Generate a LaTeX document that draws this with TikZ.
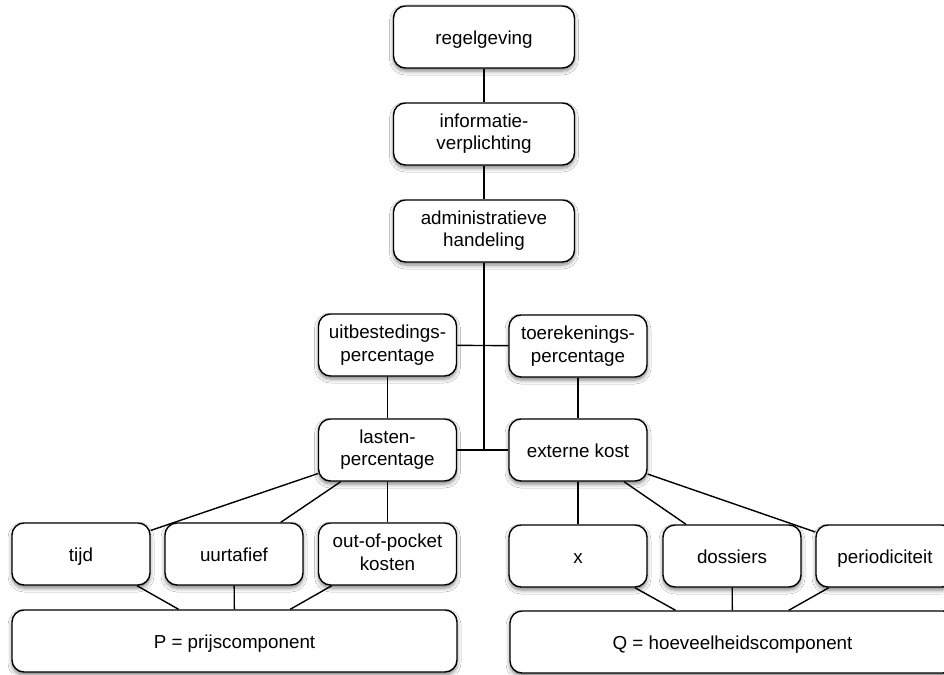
\documentclass[tikz,border=0pt]{standalone}
\usepackage{fontspec}
\setmainfont{Liberation Sans}
\usetikzlibrary{shadows.blur}
% strut that sets the baseline a little low in each box
\newcommand\boxstrut{\rule[-3.6pt]{0pt}{22pt}}
\begin{document}
\begin{tikzpicture}[x=1pt,y=-1pt,
  box/.style={draw=black, line width=1.4pt, rounded corners=12pt, fill=white,
    align=center, font=\fontsize{18.8}{22}\selectfont, inner sep=0pt,
    minimum height=62pt,
    execute at begin node=\boxstrut,
    blur shadow={shadow xshift=0pt, shadow yshift=-3pt, shadow blur radius=4pt, shadow opacity=50}},
  wide/.style={box, minimum width=181pt},
  mid/.style={box, minimum width=138pt},
  long/.style={box, minimum width=445pt},
  link/.style={draw=black, line width=1.4pt}]
\useasboundingbox (0,0) rectangle (944,674);
\fill[white] (0,0) rectangle (944,674);

% chain at the top
\node[wide] (reg) at (484,37)  {regelgeving};
\node[wide] (inf) at (484,134) {informatie-\\\boxstrut verplichting};
\node[wide] (adm) at (484,231) {administratieve\\\boxstrut handeling};

% percentages and costs
\node[mid] (uit) at (387.5,345) {uitbestedings-\\\boxstrut percentage};
\node[mid] (toe) at (578,346)   {toerekenings-\\\boxstrut percentage};
\node[mid] (las) at (387.5,450) {lasten-\\\boxstrut percentage};
\node[mid] (ext) at (578,450)   {externe kost};

% factors
\node[mid] (tijd) at (81,554)    {tijd};
\node[mid] (uur)  at (234,554)   {uurtafief};
\node[mid] (oop)  at (387.5,554) {out-of-pocket\\\boxstrut kosten};
\node[mid] (xx)   at (578,556)   {x};
\node[mid] (dos)  at (732,556)   {dossiers};
\node[mid] (per)  at (885,556)   {periodiciteit};

% components
\node[long] (P) at (234.5,641) {P = prijscomponent};
\node[long] (Q) at (732.5,642) {Q = hoeveelheidscomponent};

% connectors
\draw[link] (reg) -- (inf);
\draw[link] (inf) -- (adm);
\draw[link] (adm.south) -- (adm.south |- las.east);
\draw[link] (las) -- (ext);
\draw[link] (uit) -- (toe);
\draw[link] (uit) -- (las);
\draw[link] (toe) -- (ext);
\draw[link] (las) -- (tijd);
\draw[link] (las) -- (uur);
\draw[link] (las) -- (oop);
\draw[link] (ext) -- (xx);
\draw[link] (ext) -- (dos);
\draw[link] (ext) -- (per);
\draw[link] (tijd) -- (P);
\draw[link] (uur) -- (P);
\draw[link] (oop) -- (P);
\draw[link] (xx) -- (Q);
\draw[link] (dos) -- (Q);
\draw[link] (per) -- (Q);
\end{tikzpicture}
\end{document}
